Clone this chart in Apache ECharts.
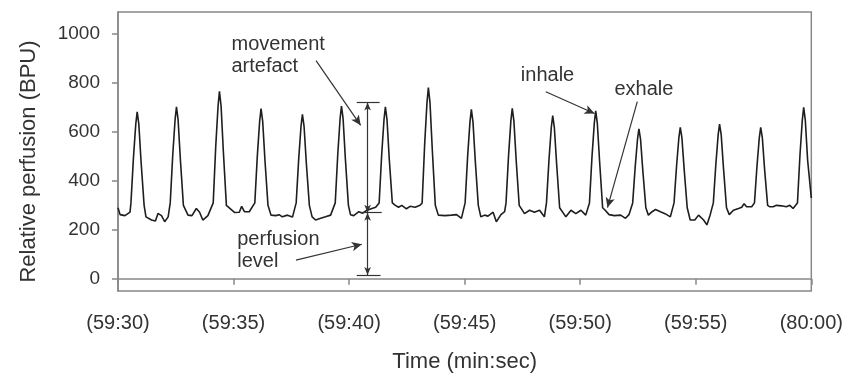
<!DOCTYPE html>
<html>
<head>
<meta charset="utf-8">
<script src="https://cdn.jsdelivr.net/npm/echarts@6/dist/echarts.min.js"></script>
<style>
  html, body { margin: 0; padding: 0; background: #fff; }
  #main { width: 846px; height: 378px; }
</style>
</head>
<body>
<div id="main"></div>
<script>
  // time in seconds from 59:30
  var timeSec = [
    0.00, 0.09, 0.30, 0.52,
    0.56, 0.67, 0.77, 0.83, 0.90, 1.00, 1.13,
    1.21, 1.45, 1.62, 1.73, 1.88, 2.02, 2.17,
    2.26, 2.37, 2.47, 2.53, 2.60, 2.70, 2.83,
    3.03, 3.20, 3.39, 3.53, 3.67, 3.89,
    4.12, 4.23, 4.33, 4.39, 4.46, 4.56, 4.69,
    5.04, 5.25, 5.35, 5.47, 5.68,
    5.92, 6.03, 6.13, 6.19, 6.26, 6.36, 6.49,
    6.62, 6.83, 6.97, 7.11, 7.33, 7.55,
    7.71, 7.82, 7.92, 7.98, 8.05, 8.15, 8.28,
    8.40, 8.55, 8.77, 8.98, 9.20,
    9.40, 9.51, 9.61, 9.67, 9.74, 9.84, 9.97,
    10.06, 10.20, 10.42, 10.59, 10.77, 10.99, 11.15,
    11.30, 11.41, 11.51, 11.57, 11.64, 11.74, 11.87,
    12.00, 12.14, 12.28, 12.48, 12.64, 12.86, 13.07,
    13.16, 13.27, 13.37, 13.43, 13.50, 13.60, 13.73,
    13.86, 14.15, 14.42, 14.65, 14.86,
    15.02, 15.13, 15.23, 15.29, 15.36, 15.46, 15.59,
    15.70, 15.87, 16.01, 16.23, 16.37, 16.57, 16.73,
    16.79, 16.90, 17.00, 17.06, 17.13, 17.23, 17.36,
    17.59, 17.81, 18.02, 18.24, 18.45,
    18.54, 18.65, 18.75, 18.81, 18.88, 18.98, 19.11,
    19.38, 19.60, 19.81, 20.03, 20.24,
    20.40, 20.51, 20.61, 20.67, 20.74, 20.84, 20.97,
    21.06, 21.25, 21.48, 21.75, 21.96, 22.11,
    22.27, 22.38, 22.48, 22.54, 22.61, 22.71, 22.84,
    22.95, 23.11, 23.26, 23.47, 23.67, 23.90,
    24.06, 24.17, 24.27, 24.33, 24.40, 24.50, 24.63,
    24.76, 24.96, 25.12, 25.34, 25.48, 25.62,
    25.76, 25.87, 25.97, 26.03, 26.10, 26.20, 26.33,
    26.45, 26.63, 26.85, 26.99, 27.09, 27.20, 27.42,
    27.54, 27.65, 27.75, 27.81, 27.88, 27.98, 28.11,
    28.21, 28.35, 28.49, 28.71, 28.92, 29.07, 29.21,
    29.40, 29.51, 29.61, 29.67, 29.74, 29.84, 30.00
  ]
  // relative perfusion (BPU)
  var perfusion = [
    290, 262, 258, 272,
    310, 497, 633, 682, 633, 476, 300,
    253, 240, 236, 267, 258, 233, 253,
    310, 508, 650, 702, 650, 486, 300,
    260, 258, 287, 272, 240, 258,
    310, 543, 706, 766, 706, 518, 300,
    271, 272, 296, 274, 274,
    310, 504, 644, 695, 644, 482, 300,
    260, 258, 262, 253, 260, 252,
    310, 491, 624, 672, 624, 471, 300,
    253, 240, 247, 253, 260,
    310, 510, 654, 706, 654, 488, 300,
    262, 258, 274, 268, 280, 287, 292,
    310, 508, 650, 702, 650, 486, 310,
    300, 292, 300, 286, 296, 292, 300,
    310, 551, 720, 781, 720, 526, 300,
    260, 258, 260, 262, 247,
    310, 502, 641, 692, 641, 481, 300,
    253, 260, 256, 272, 233, 262, 274,
    310, 504, 645, 696, 645, 483, 300,
    266, 280, 272, 280, 253,
    310, 488, 619, 667, 619, 469, 290,
    253, 280, 266, 280, 260,
    310, 499, 636, 686, 636, 478, 290,
    282, 262, 258, 260, 247, 262,
    310, 458, 571, 612, 571, 441, 290,
    260, 274, 283, 274, 266, 253,
    310, 462, 577, 619, 577, 445, 290,
    240, 240, 260, 240, 220, 260,
    310, 469, 589, 632, 589, 451, 290,
    262, 280, 287, 292, 307, 294, 294,
    310, 462, 577, 619, 577, 445, 300,
    294, 294, 300, 298, 294, 300, 287,
    310, 507, 648, 700, 648, 485, 330
  ]
  var xTicks = [0, 5, 10, 15, 20, 25, 30]
  var xTickLabels = ['(59:30)', '(59:35)', '(59:40)', '(59:45)', '(59:50)', '(59:55)', '(80:00)']
  var yTicks = [0, 200, 400, 600, 800, 1000]

  // annotations, in data units
  var noteText = ['movement\nartefact', 'perfusion\nlevel', 'inhale', 'exhale']
  var noteAt = [[4.91, 911], [5.16, 116], [17.43, 830], [21.48, 773]]
  var arrows = [
    [[8.57, 891], [10.50, 627]],
    [[7.70, 76], [10.55, 141]],
    [[18.51, 764], [20.62, 675]],
    [[22.47, 724], [21.18, 291]]
  ]
  // [x, from, to]
  var bars = [[10.8, 270, 720], [10.8, 15, 270]]
  // [x1, x2, y]
  var caps = [[10.33, 11.32, 720], [10.50, 11.41, 270], [10.33, 11.36, 15]]

  var seriesData = []
  for (var i = 0; i < timeSec.length; i++) {
    seriesData.push([timeSec[i], perfusion[i]])
  }

  var lines = []
  arrows.forEach(function (a) {
    lines.push([{coord: a[0], symbol: 'none'}, {coord: a[1], symbol: 'arrow', symbolSize: [7, 10]}])
  })
  bars.forEach(function (b) {
    lines.push([{coord: [b[0], b[1]], symbol: 'arrow', symbolSize: [5, 8]}, {coord: [b[0], b[2]], symbol: 'arrow', symbolSize: [5, 8]}])
  })
  caps.forEach(function (c) {
    lines.push([{coord: [c[0], c[2]], symbol: 'none'}, {coord: [c[1], c[2]], symbol: 'none'}])
  })

  var notes = []
  for (var k = 0; k < noteText.length; k++) {
    notes.push({name: noteText[k], coord: noteAt[k]})
  }

  var font = 'Liberation Sans, Arial, sans-serif'
  var chart = echarts.init(document.getElementById('main'))
  chart.setOption({
    animation: false,
    backgroundColor: '#fff',
    grid: {
      left: 118, right: 31, top: 12, bottom: 85,
      show: true, borderColor: '#888', borderWidth: 1.5
    },
    xAxis: {
      type: 'value', min: 0, max: 30, interval: 5,
      name: 'Time (min:sec)', nameLocation: 'middle', nameGap: 60,
      nameTextStyle: {fontFamily: font, fontSize: 22, color: '#333'},
      axisLine: {lineStyle: {color: '#888', width: 1.5}},
      axisTick: {length: 6, lineStyle: {color: '#888', width: 1.5}},
      axisLabel: {
        margin: 22, fontFamily: font, fontSize: 20, color: '#333',
        formatter: function (v) { return xTickLabels[xTicks.indexOf(v)] }
      },
      splitLine: {show: false}
    },
    yAxis: {
      type: 'value', min: -50, max: 1090,
      name: 'Relative perfusion (BPU)', nameLocation: 'middle', nameGap: 78,
      nameTextStyle: {fontFamily: font, fontSize: 22, color: '#333', padding: [0, 20, 0, 0]},
      axisLine: {show: true, lineStyle: {color: '#888', width: 1.5}},
      axisTick: {show: true, length: 6, customValues: yTicks, lineStyle: {color: '#888', width: 1.5}},
      axisLabel: {
        margin: 18, fontFamily: font, fontSize: 19, color: '#333', customValues: yTicks,
        formatter: function (v) { return String(v) }
      },
      splitLine: {show: false}
    },
    series: [{
      type: 'line',
      data: seriesData,
      symbol: 'none',
      lineStyle: {color: '#1e1e1e', width: 1.6},
      markLine: {
        silent: true,
        animation: false,
        label: {show: false},
        lineStyle: {color: '#333', width: 1.2, type: 'solid'},
        data: lines
      },
      markPoint: {
        silent: true,
        symbol: 'circle',
        symbolSize: 0,
        itemStyle: {color: 'rgba(0,0,0,0)'},
        label: {
          show: true, position: 'right', distance: 0,
          formatter: '{b}', fontFamily: font, fontSize: 20, lineHeight: 22,
          color: '#333', align: 'left'
        },
        data: notes
      }
    }]
  })
</script>
</body>
</html>
